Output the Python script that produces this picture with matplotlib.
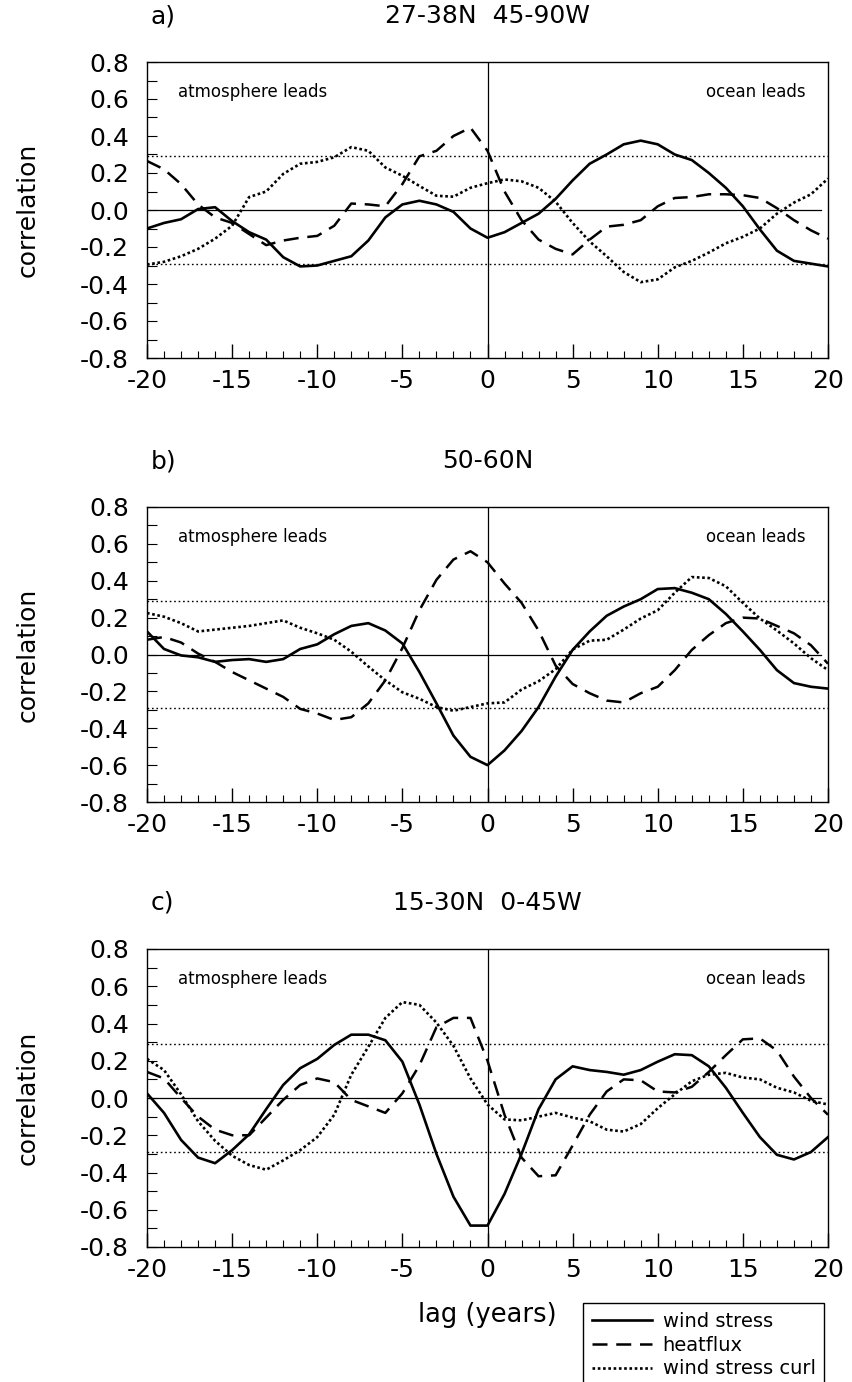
import matplotlib
matplotlib.use("Agg")
import matplotlib.pyplot as plt
from matplotlib.ticker import MultipleLocator, FixedLocator

plt.rcParams['font.family'] = ['DejaVu Sans']

lags = list(range(-20, 21))

# panel a) 27-38N 45-90W
a_wind = [-0.10, -0.07, -0.05, 0.005, 0.015, -0.06, -0.12, -0.16, -0.255, -0.305, -0.30,
          -0.275, -0.25, -0.165, -0.04, 0.03, 0.05, 0.03, -0.01, -0.10, -0.15,
          -0.12, -0.07, -0.02, 0.06, 0.16, 0.25, 0.30, 0.355, 0.375, 0.355,
          0.30, 0.27, 0.20, 0.12, 0.02, -0.105, -0.22, -0.275, -0.29, -0.305]
a_heat = [0.265, 0.22, 0.14, 0.03, -0.04, -0.07, -0.13, -0.19, -0.165, -0.15, -0.14,
          -0.085, 0.035, 0.03, 0.02, 0.14, 0.29, 0.32, 0.40, 0.445, 0.32,
          0.10, -0.055, -0.16, -0.21, -0.24, -0.16, -0.09, -0.08, -0.055, 0.02,
          0.065, 0.07, 0.085, 0.085, 0.08, 0.065, 0.01, -0.055, -0.11, -0.155]
a_curl = [-0.295, -0.28, -0.25, -0.21, -0.155, -0.085, 0.07, 0.10, 0.195, 0.25, 0.26,
          0.285, 0.34, 0.32, 0.23, 0.185, 0.13, 0.077, 0.072, 0.12, 0.145,
          0.165, 0.155, 0.12, 0.045, -0.07, -0.17, -0.25, -0.335, -0.39, -0.375,
          -0.31, -0.275, -0.23, -0.18, -0.145, -0.10, -0.02, 0.04, 0.085, 0.17]

# panel b) 50-60N
b_wind = [0.125, 0.03, -0.005, -0.015, -0.04, -0.03, -0.025, -0.04, -0.025, 0.03, 0.055,
          0.11, 0.155, 0.17, 0.13, 0.06, -0.095, -0.265, -0.44, -0.555, -0.60,
          -0.52, -0.415, -0.285, -0.12, 0.025, 0.125, 0.21, 0.26, 0.30, 0.355,
          0.36, 0.335, 0.30, 0.22, 0.125, 0.025, -0.085, -0.155, -0.175, -0.185]
b_heat = [0.08, 0.095, 0.065, 0.005, -0.04, -0.095, -0.14, -0.185, -0.23, -0.295, -0.32,
          -0.355, -0.34, -0.265, -0.14, 0.035, 0.24, 0.405, 0.515, 0.56, 0.50,
          0.385, 0.28, 0.13, -0.06, -0.16, -0.21, -0.25, -0.26, -0.21, -0.175,
          -0.085, 0.025, 0.105, 0.17, 0.20, 0.195, 0.155, 0.115, 0.05, -0.05]
b_curl = [0.225, 0.205, 0.17, 0.125, 0.135, 0.145, 0.155, 0.17, 0.185, 0.145, 0.115,
          0.08, 0.015, -0.065, -0.14, -0.205, -0.24, -0.285, -0.305, -0.285, -0.265,
          -0.26, -0.19, -0.145, -0.08, 0.027, 0.075, 0.08, 0.135, 0.195, 0.24,
          0.335, 0.42, 0.415, 0.37, 0.28, 0.195, 0.13, 0.06, -0.02, -0.085]

# panel c) 15-30N 0-45W
c_wind = [0.025, -0.08, -0.225, -0.32, -0.35, -0.28, -0.195, -0.06, 0.07, 0.16, 0.21,
          0.285, 0.34, 0.34, 0.31, 0.195, -0.035, -0.30, -0.53, -0.685, -0.685,
          -0.515, -0.30, -0.06, 0.10, 0.17, 0.15, 0.14, 0.125, 0.15, 0.195,
          0.235, 0.23, 0.17, 0.055, -0.08, -0.21, -0.305, -0.33, -0.29, -0.21]
c_heat = [0.14, 0.105, 0.0, -0.10, -0.17, -0.20, -0.20, -0.105, -0.01, 0.07, 0.105,
          0.085, -0.01, -0.045, -0.08, 0.025, 0.175, 0.38, 0.43, 0.43, 0.20,
          -0.09, -0.32, -0.42, -0.415, -0.255, -0.09, 0.035, 0.10, 0.095, 0.035,
          0.03, 0.06, 0.14, 0.23, 0.315, 0.32, 0.255, 0.115, 0.0, -0.09]
c_curl = [0.21, 0.15, 0.02, -0.125, -0.23, -0.31, -0.36, -0.385, -0.335, -0.28, -0.21,
          -0.09, 0.125, 0.275, 0.43, 0.515, 0.50, 0.405, 0.28, 0.105, -0.035,
          -0.115, -0.12, -0.10, -0.08, -0.105, -0.125, -0.17, -0.18, -0.14, -0.055,
          0.02, 0.09, 0.125, 0.135, 0.11, 0.10, 0.055, 0.03, -0.015, -0.035]

panel_letters = ["a)", "b)", "c)"]
panel_titles = ["27-38N  45-90W", "50-60N", "15-30N  0-45W"]
series_names = ["wind stress", "heatflux", "wind stress curl"]
signif = 0.29
yticks = [-0.8, -0.6, -0.4, -0.2, 0.0, 0.2, 0.4, 0.6, 0.8]
xticks = [-20, -15, -10, -5, 0, 5, 10, 15, 20]

data = [(a_wind, a_heat, a_curl), (b_wind, b_heat, b_curl), (c_wind, c_heat, c_curl)]

W, H = 852, 1382
fig = plt.figure(figsize=(W / 100, H / 100), dpi=100)

left_px, right_px = 147, 828
boxes = [(62, 358), (507, 802), (949, 1247)]

styles = [dict(ls='-', lw=1.9),
          dict(ls=(0, (6, 3.5)), lw=1.8),
          dict(ls=(0, (1.0, 1.0)), lw=1.9)]

handles = []
for i, (top, bot) in enumerate(boxes):
    ax = fig.add_axes([left_px / W, 1 - bot / H, (right_px - left_px) / W, (bot - top) / H])
    ax.set_xlim(-20, 20)
    ax.set_ylim(-0.8, 0.8)
    # reference lines
    ax.axhline(0, xmin=0, xmax=0.99, color='black', lw=0.9)
    ax.axvline(0, color='black', lw=0.9)
    ax.axhline(signif, color='black', lw=1.0, ls=(0, (1.2, 2.0)))
    ax.axhline(-signif, color='black', lw=1.0, ls=(0, (1.2, 2.0)))
    handles = []
    for vals, st, name in zip(data[i], styles, series_names):
        h, = ax.plot(lags, vals, color='black', solid_joinstyle='round',
                     dash_capstyle='butt', label=name, **st)
        handles.append(h)
    ax.xaxis.set_major_locator(FixedLocator(xticks))
    ax.xaxis.set_minor_locator(MultipleLocator(1))
    ax.yaxis.set_major_locator(FixedLocator(yticks))
    ax.yaxis.set_minor_locator(MultipleLocator(0.1))
    ax.set_yticklabels([f"{v:.1f}" for v in yticks])
    ax.set_xticklabels([str(v) for v in xticks])
    ax.tick_params(axis='both', which='both', direction='in', labelsize=18,
                   top=False, right=False)
    ax.tick_params(axis='x', which='major', length=10, width=1.0, pad=8)
    ax.tick_params(axis='x', which='minor', length=5, width=0.8)
    ax.tick_params(axis='y', which='major', length=7, width=0.8, pad=13)
    ax.tick_params(axis='y', which='minor', length=7, width=0.8)
    for sp in ax.spines.values():
        sp.set_linewidth(1.0)
    ax.set_ylabel("correlation", fontsize=18)
    ax.yaxis.set_label_coords(-0.158, 0.5)
    ax.text(-18.2, 0.64, "atmosphere leads", fontsize=12, ha='left', va='center')
    ax.text(18.7, 0.64, "ocean leads", fontsize=12, ha='right', va='center')
    ax.text(0.005, 1.155, panel_letters[i], transform=ax.transAxes, fontsize=18,
            ha='left', va='center')
    ax.text(0.5, 1.155, panel_titles[i], transform=ax.transAxes, fontsize=18,
            ha='center', va='center')
    if i == 2:
        ax.set_xlabel("lag (years)", fontsize=18.5, labelpad=14)

leg = fig.legend(handles, series_names, loc='upper left',
                 bbox_to_anchor=(583 / W, 1 - 1303 / H), fontsize=14,
                 frameon=True, fancybox=False, edgecolor='black', framealpha=1,
                 handlelength=3.1, handletextpad=0.55, labelspacing=0.25,
                 borderpad=0.45, borderaxespad=0)
leg.get_frame().set_linewidth(1.0)

fig.savefig("out.png", dpi=100)
